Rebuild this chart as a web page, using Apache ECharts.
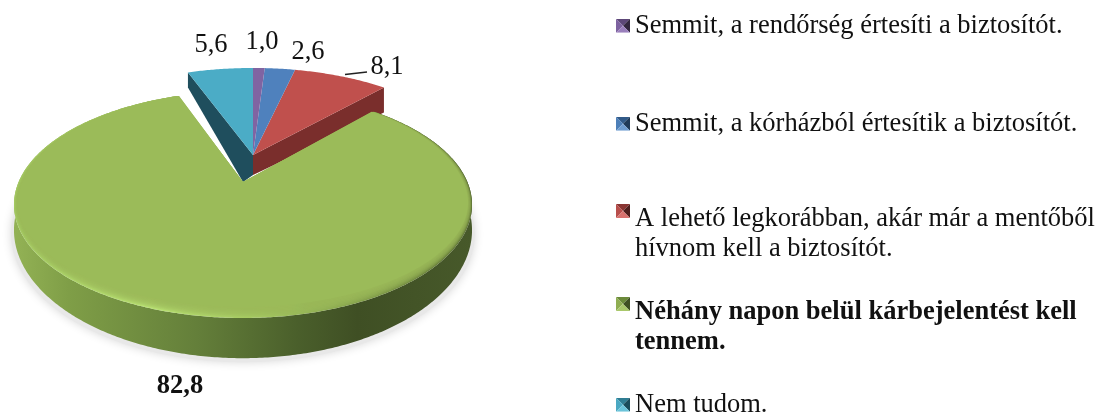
<!DOCTYPE html>
<html><head><meta charset="utf-8">
<style>html,body{margin:0;padding:0;background:#fff}#c{width:1102px;height:413px}</style>
<script src="https://cdn.jsdelivr.net/npm/echarts@6/dist/echarts.min.js"></script>
</head><body><div id="c"></div>
<script>
var categories = [
  'Semmit, a rendőrség értesíti a biztosítót.',
  'Semmit, a kórházból értesítik a biztosítót.',
  'A lehető legkorábban, akár már a mentőből\nhívnom kell a biztosítót.',
  'Néhány napon belül kárbejelentést kell\ntennem.',
  'Nem tudom.'
];
var values = [1.0, 2.6, 8.1, 82.8, 5.6];
var valueLabels = ['1,0', '2,6', '8,1', '82,8', '5,6'];

// styling / layout, kept apart from the data
var colors = ['#8064a2', '#4f81bd', '#c0504d', '#9bbb59', '#4bacc6'];
var sideColors = ['#4a3a60', '#2c4d73', '#7a2e2c', '#5f7a35', '#1f4e5d'];
var iconShades = [
  ['#5d4778', '#7d62a0', '#33263f', '#9a7fbc'],
  ['#315a88', '#4d7fb8', '#1f3a58', '#6f9dd0'],
  ['#8a3533', '#b84f4c', '#4f1f1e', '#d8726f'],
  ['#6b8a3a', '#8fae52', '#3f5022', '#a9c86b'],
  ['#2f7d93', '#4aa8c2', '#1a4c5b', '#6cc4da']
];
var labelPos = [[262, 42], [308, 52], [387, 67], [180, 386], [211, 45]];
var legendTop = [11, 109, 204, 297, 390];
var FONT = '"Liberation Serif","Times New Roman",serif';
var K = 0.2, F = 224.4, G = 108.8;
var upper = { tx: 253, ty: 155, gs: 0.96, f: 1 };
var lower = { tx: 243, ty: 182, gs: 1, f: 1 };

var total = values.reduce(function (a, b) { return a + b; }, 0);
var angles = [], acc = 0;
values.forEach(function (v) {
  var a0 = acc / total * Math.PI * 2; acc += v;
  angles.push([a0, acc / total * Math.PI * 2]);
});

function proj(theta, g, r) {
  r = r === undefined ? 1 : r;
  var X = r * Math.sin(theta), Y = -r * Math.cos(theta), w = 1 - K * Y;
  return [g.tx + F * g.f * X / w, g.ty + G * g.gs * Y / w, Y, w];
}
function arc(a0, a1, g) {
  var n = Math.max(2, Math.ceil((a1 - a0) / 0.01)), out = [];
  for (var i = 0; i <= n; i++) out.push(proj(a0 + (a1 - a0) * i / n, g));
  return out;
}
function xy(p) { return [p[0], p[1]]; }
function greenDepth(p) { return 23 / Math.pow(p[3], 2.5); }
function poly(points, style, extra) {
  return Object.assign({ type: 'polygon', shape: { points: points }, style: style, silent: true }, extra || {});
}
function label(i) {
  return { type: 'text', silent: true, z2: 50, style: {
    text: valueLabels[i], x: labelPos[i][0], y: labelPos[i][1], align: 'center', verticalAlign: 'middle',
    font: (i === 3 ? 'bold ' : '') + '26.5px ' + FONT, fill: '#111'
  } };
}
function hGrad(stops) {
  return { type: 'linear', x: 0, y: 0, x2: 1, y2: 0, colorStops: stops.map(function (s) { return { offset: s[0], color: s[1] }; }) };
}

function renderSlice(i) {
  var a = angles[i];
  var kids = [];
  if (i === 3) {
    var top = arc(a[0], a[1], lower);
    var tip = proj(0, lower, 0);
    var lowerOutline = top.map(function (p) { return [p[0], p[1] + greenDepth(p)]; });
    // soft ground shadow, only on the near half of the disc
    var nearOutline = lowerOutline.filter(function (p, idx) { return top[idx][2] > -0.1; });
    kids.push(poly(nearOutline.map(function (p) { return [lower.tx + (p[0] - lower.tx) * 1.012, p[1] + 4]; }), { fill: '#e8e8e8', shadowBlur: 10, shadowColor: '#d8d8d8' }));
    // outer wall
    kids.push(poly(top.map(xy).concat(lowerOutline.slice().reverse()), {
      fill: hGrad([[0, '#93b255'], [0.12, '#7f9e47'], [0.4, '#647f3a'], [0.62, '#4a5f2b'], [0.75, '#3f4f24'], [1, '#47592a']])
    }));
    // bevelled rim
    kids.push(poly([xy(tip)].concat(top.map(xy)), {
      fill: hGrad([[0, '#a6cc64'], [0.3, '#b8e072'], [0.55, '#a3c660'], [0.8, '#7f9a48'], [1, '#5c7034']])
    }));
    // flat top fading into the rim
    var steps = 8;
    for (var k = 1; k <= steps; k++) {
      var fr = k / steps;
      var inner = top.map(function (p) {
        var Y = Math.max(0, p[2]);
        var dx = (p[0] - lower.tx) / 229;
        return [p[0] - dx * 4 * fr, p[1] - 11 * Y * fr];
      });
      kids.push(poly([xy(tip)].concat(inner), { fill: '#9bbb59', opacity: k === steps ? 1 : 0.3 }));
    }
    kids.push(label(i));
  } else {
    var t = proj(0, upper, 0);
    var D = 20;
    if (i === 2) {
      var e = proj(a[1], upper);
      kids.push(poly([xy(e), xy(t), [t[0], t[1] + D], [e[0], e[1] + 25]], { fill: sideColors[i] }));
    }
    if (i === 4) {
      var s = proj(a[0], upper), gt = proj(0, lower, 0);
      kids.push(poly([xy(s), xy(t), [t[0], t[1] + D], xy(gt), [s[0], s[1] + 15]], { fill: sideColors[i] }));
    }
    kids.push(poly([xy(t)].concat(arc(a[0], a[1], upper).map(xy)), { fill: colors[i] }));
    kids.push(label(i));
    if (i === 2) {
      kids.push({ type: 'line', silent: true, shape: { x1: 345, y1: 74.5, x2: 367, y2: 72 }, style: { stroke: '#222', lineWidth: 1.5 } });
    }
  }
  return { type: 'group', children: kids };
}

function iconFor(i, tall) {
  var h = tall ? 60 : 14, s = iconShades[i];
  var svg = '<svg xmlns="http://www.w3.org/2000/svg" width="14" height="' + h + '" viewBox="0 0 14 ' + h + '" preserveAspectRatio="none">' +
    '<polygon points="0,0 14,0 7,7" fill="' + s[0] + '"/>' +
    '<polygon points="0,0 7,7 0,14" fill="' + s[1] + '"/>' +
    '<polygon points="14,0 14,14 7,7" fill="' + s[2] + '"/>' +
    '<polygon points="0,14 14,14 7,7" fill="' + s[3] + '"/></svg>';
  return 'image://data:image/svg+xml;charset=utf-8,' + encodeURIComponent(svg);
}

var drawOrder = [4, 2, 1, 0, 3];
var chart = echarts.init(document.getElementById('c'), null, { renderer: 'canvas' });
chart.setOption({
  animation: false,
  backgroundColor: '#fff',
  legend: categories.map(function (name, i) {
    var tall = name.indexOf('\n') >= 0;
    return {
      left: 616, top: legendTop[i], orient: 'vertical', selectedMode: false,
      itemWidth: 14, itemHeight: tall ? 60 : 14, itemGap: 0, padding: 0,
      data: [{ name: name, icon: iconFor(i, tall) }],
      textStyle: { fontFamily: FONT, fontSize: 26.5, lineHeight: 29.5, color: '#111', padding: [0, 0, 0, 0],
        fontWeight: i === 3 ? 'bold' : 'normal' }
    };
  }),
  series: drawOrder.map(function (i, order) {
    return {
      type: 'custom', name: categories[i], coordinateSystem: 'none', z: 2 + order, silent: true,
      itemStyle: { color: colors[i] }, data: [values[i]],
      renderItem: function () { return renderSlice(i); }
    };
  })
});
</script></body></html>
